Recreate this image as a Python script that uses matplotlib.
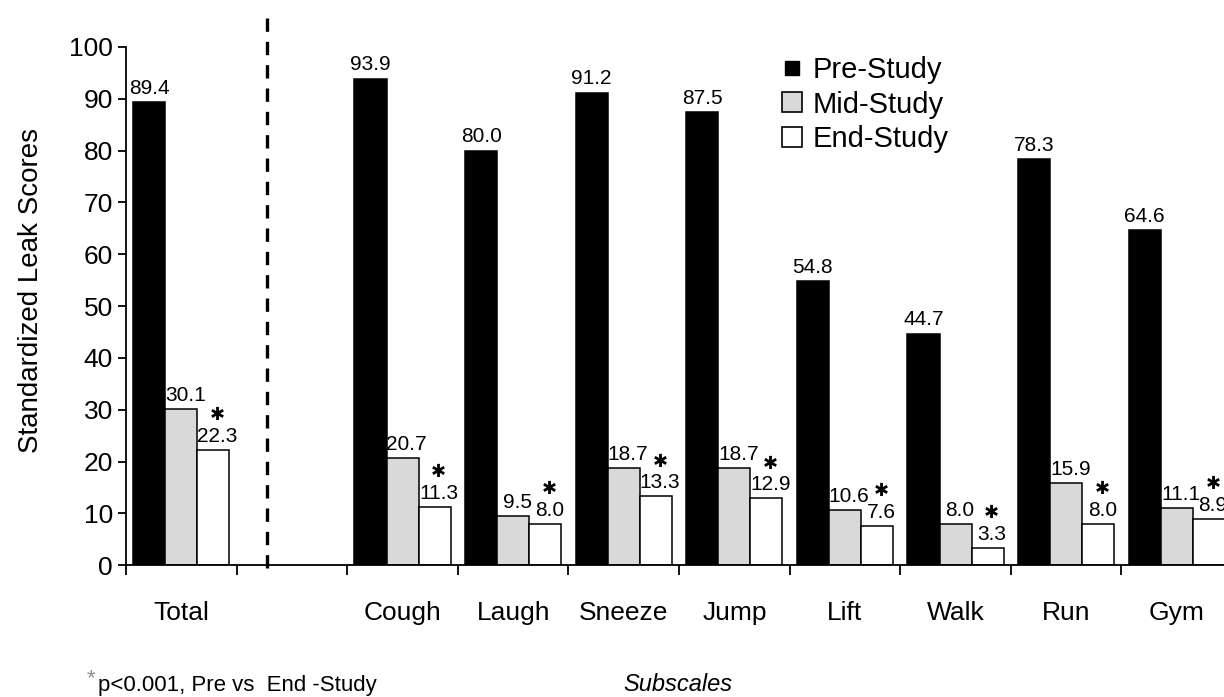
import numpy as np
import matplotlib.pyplot as plt
from matplotlib.lines import Line2D

plt.rcParams["font.family"] = ["Liberation Sans", "DejaVu Sans"]

categories = ["Total", "Cough", "Laugh", "Sneeze", "Jump", "Lift", "Walk", "Run", "Gym"]
pre_study = [89.4, 93.9, 80.0, 91.2, 87.5, 54.8, 44.7, 78.3, 64.6]
mid_study = [30.1, 20.7, 9.5, 18.7, 18.7, 10.6, 8.0, 15.9, 11.1]
end_study = [22.3, 11.3, 8.0, 13.3, 12.9, 7.6, 3.3, 8.0, 8.9]
yticks = list(range(0, 101, 10))

fig = plt.figure(figsize=(12.24, 6.97), dpi=100)
ax = fig.add_axes([0.103, 0.189, 0.9036, 0.7436])

# Total sits in slot 0, one empty slot, then the subscales
x = np.r_[0, np.arange(2, 1 + len(categories))] + 0.5
w = 0.29

series = [
    (pre_study, "black", "Pre-Study", -w, 0),
    (mid_study, "#d9d9d9", "Mid-Study", 0.0, 3),
    (end_study, "white", "End-Study", w, 3),
]
for vals, col, lab, off, dx in series:
    bars = ax.bar(x + off, vals, width=w, color=col, edgecolor="black",
                  linewidth=1.1, label=lab)
    for b, v in zip(bars, vals):
        ax.annotate(f"{v:.1f}", (b.get_x() + b.get_width() / 2, v),
                    xytext=(dx, 3), textcoords="offset points",
                    ha="center", va="bottom", fontsize=15)

# significance asterisks above the End-Study bars
for xi, v in zip(x + w, end_study):
    ax.annotate("\u2731", (xi, v), xytext=(3, 25), textcoords="offset points",
                ha="center", va="center", fontsize=13, family="DejaVu Sans")

ax.set_xlim(0, 10)
ax.set_ylim(0, 100)
ax.set_yticks(yticks)
ax.tick_params(axis="y", labelsize=19, length=6, width=1.3, direction="out")
ax.set_xticks(x)
ax.set_xticklabels(categories)
ax.tick_params(axis="x", which="major", length=0, labelsize=19, pad=26)
ax.set_xticks(np.arange(0, 11), minor=True)
ax.tick_params(axis="x", which="minor", length=7, width=1.3, direction="out")
for s in ["top", "right"]:
    ax.spines[s].set_visible(False)
for s in ["left", "bottom"]:
    ax.spines[s].set_linewidth(1.3)

ax.set_ylabel("Standardized Leak Scores", fontsize=20)
ax.yaxis.set_label_coords(-0.0745, 0.531)

ax.plot([1.27, 1.27], [-0.005, 1.062], transform=ax.get_xaxis_transform(),
        color="black", lw=2.4, ls=(0, (4, 3)), clip_on=False)

handles = [
    Line2D([], [], marker="s", ls="", markersize=10, markerfacecolor="black",
           markeredgecolor="black"),
    Line2D([], [], marker="s", ls="", markersize=14, markerfacecolor="#d9d9d9",
           markeredgecolor="black", markeredgewidth=1.2),
    Line2D([], [], marker="s", ls="", markersize=14, markerfacecolor="white",
           markeredgecolor="black", markeredgewidth=1.2),
]
fig.legend(handles, ["Pre-Study", "Mid-Study", "End-Study"], loc="upper left",
           bbox_to_anchor=(0.628, 0.936), frameon=False, fontsize=21,
           handlelength=0.8, handletextpad=0.3, labelspacing=0.22,
           borderaxespad=0)

fig.text(0.071, 0.019, "*", color="#909090", fontsize=16, va="baseline")
fig.text(0.080, 0.008, "p<0.001, Pre vs  End -Study", fontsize=16, va="baseline")
fig.text(0.554, 0.008, "Subscales", fontsize=17, style="italic", ha="center",
         va="baseline")

fig.savefig("out.png", dpi=100)
